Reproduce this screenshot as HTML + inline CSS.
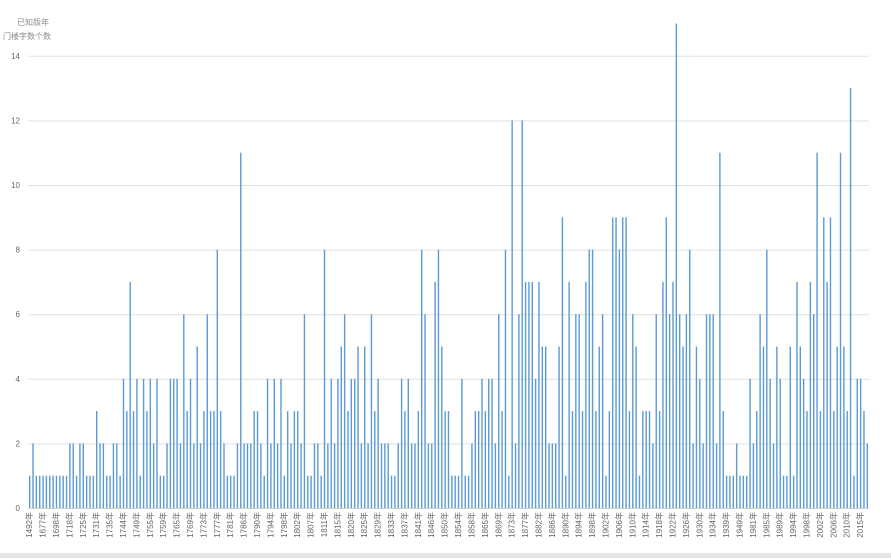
<!DOCTYPE html>
<html><head><meta charset="utf-8">
<style>
html,body{margin:0;padding:0;background:#fff;}
body{width:891px;height:558px;overflow:hidden;position:relative;font-family:"Liberation Sans","Noto Sans CJK SC",sans-serif;}
#bottom-band{position:absolute;left:0;top:553px;width:891px;height:5px;background:#e6e6e6;}
</style></head>
<body>
<svg id="chart" width="891" height="558" xmlns="http://www.w3.org/2000/svg" style="position:absolute;left:0;top:0">
  <text x="17" y="25" font-size="8" fill="#8c8c8c" font-family="Liberation Sans, Noto Sans CJK SC, sans-serif">已知版年</text>
  <text x="3" y="39" font-size="8" fill="#8c8c8c" font-family="Liberation Sans, Noto Sans CJK SC, sans-serif">门楼字数个数</text>
  <g id="grid"></g>
  <g id="yticks"></g>
  <g id="bars"></g>
  <g id="xticks"></g>
</svg>
<div id="bottom-band"></div>
<script>
const values = [
1,2,1,1,1,1,1,1,1,1, 1,1,2,2,1,2,2,1,1,1, 3,2,2,1,1,2,2,1,4,3, 7,3,4,1,4,3,4,2,4,1, 1,2,4,
4,4,2,6,3,4,2,5,2,3, 6,3,3,8,3,2,1,1,1,2, 11,2,2,2,3,3,2,1,4,2, 4,2,4,1,3,2,3,3,2,6, 1,
1,2,2,1,8,2,4,2,4,5, 6,3,4,4,5,2,5,2,6,3, 4,2,2,2,1,1,2,4,3,4, 2,2,3,8,6,2,2,7,8,5, 3,3,
1,1,1,4,1,1,2,3,3,4, 3,4,4,2,6,3,8,1,12,2, 6,12,7,7,7,4,7,5,5,2, 2,2,5,9,1,7,3,6,6,3, 7,8,
8,3,5,6,1,3,9,9,8,9, 9,3,6,5,1,3,3,3,2,6, 3,7,9,6,7,15,6,5,6,8, 2,5,4,2,6,6,6,2,11,3, 1,1,
1,2,1,1,1,4,2,3,6,5, 8,4,2,5,4,1,1,5,1,7, 5,4,3,7,6,11,3,9,7,9, 3,5,11,5,3,13,1,4,4,3, 2
];
const tickLabels = ["1492","1677","1698","1718","1725","1731","1735","1744","1749","1755","1759","1765","1769","1773","1777","1781","1786","1790","1794","1798","1802","1807","1811","1815","1820","1825","1829","1833","1837","1841","1846","1850","1854","1858","1865","1869","1873","1877","1882","1886","1890","1894","1898","1902","1906","1910","1914","1918","1922","1926","1930","1934","1939","1949","1981","1985","1989","1994","1998","2002","2006","2010","2015"];
const yTicks = [0,2,4,6,8,10,12,14];
const labelEvery = 4;

const NS="http://www.w3.org/2000/svg";
const plotL=28, plotR=869, y0=508, unit=32.3;
const pitch=(plotR-plotL)/values.length;
function xScale(i){return plotL+pitch*(i+0.5);}
function yScale(v){return y0-v*unit;}

const grid=document.getElementById('grid'), yt=document.getElementById('yticks');
yTicks.forEach(t=>{
  const l=document.createElementNS(NS,'line');
  
  
  l.setAttribute('x1',plotL);l.setAttribute('x2',plotR);
  l.setAttribute('y1',yScale(t)+0.5);l.setAttribute('y2',yScale(t)+0.5);
  l.setAttribute('stroke',t===0?'#d0d0d0':'#e0e0e0');l.setAttribute('stroke-width','1');
  grid.appendChild(l);
  const tx=document.createElementNS(NS,'text');
  
  
  tx.setAttribute('x',20);tx.setAttribute('y',yScale(t)+3);
  tx.setAttribute('text-anchor','end');tx.setAttribute('font-size','8');tx.setAttribute('fill','#666');
  tx.textContent=t;
  yt.appendChild(tx);
});

const bars=document.getElementById('bars');
values.forEach((v,i)=>{
  const r=document.createElementNS(NS,'rect');
  
  
  r.setAttribute('x',xScale(i)-0.7);r.setAttribute('width',1.4);
  r.setAttribute('y',yScale(v));r.setAttribute('height',v*unit);
  r.setAttribute('fill','#5b9bd5');
  bars.appendChild(r);
});

const xt=document.getElementById('xticks');
tickLabels.forEach((lab,k)=>{
  const x=xScale(k*labelEvery)+2.5;
  const tx=document.createElementNS(NS,'text');
  
  
  tx.setAttribute('transform','translate('+x+',512) rotate(-90)');
  tx.setAttribute('text-anchor','end');tx.setAttribute('font-size','8');tx.setAttribute('fill','#666');
  tx.textContent=lab+'年';
  xt.appendChild(tx);
});
</script>
</body></html>
